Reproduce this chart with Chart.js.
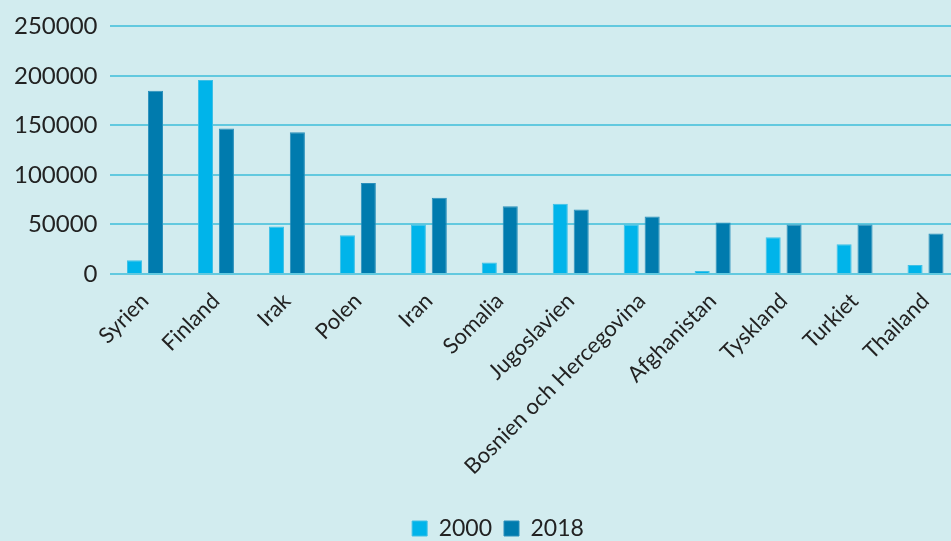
<!DOCTYPE html>
<html>
<head>
<meta charset="utf-8">
<script src="https://cdn.jsdelivr.net/npm/chart.js@4"></script>
<style>
html,body{margin:0;padding:0;background:#d2ecef;overflow:hidden;width:951px;height:541px;}
#wrap{position:absolute;left:0;top:0;width:1003px;height:541px;}
</style>
</head>
<body>
<div id="wrap"><canvas id="c"></canvas></div>
<script>
const categories = ["Syrien","Finland","Irak","Polen","Iran","Somalia","Jugoslavien","Bosnien och Hercegovina","Afghanistan","Tyskland","Turkiet","Thailand"];
const values2000 = [14000,196000,48000,39000,50000,11500,71000,50000,3000,37000,30000,9000];
const values2018 = [185000,147000,143000,92000,77000,68500,65000,58000,52000,50000,50000,41000];
const seriesLabels = ["2000","2018"];
const yTicks = [0,50000,100000,150000,200000,250000];

new Chart(document.getElementById('c'), {
  type: 'bar',
  data: {
    labels: categories,
    datasets: [
      {label: seriesLabels[0], data: values2000, backgroundColor: '#00b4ea', borderColor: '#3ec0e6', borderWidth: 1, barPercentage: 0.72, categoryPercentage: 0.59},
      {label: seriesLabels[1], data: values2018, backgroundColor: '#007bae', borderColor: '#2a8fbb', borderWidth: 1, barPercentage: 0.72, categoryPercentage: 0.59}
    ]
  },
  options: {
    responsive: true,
    maintainAspectRatio: false,
    animation: false,
    layout: {padding: {left: 2, right: 9, top: 6, bottom: -9}},
    plugins: {
      tooltip: {enabled: false},
      legend: {
        position: 'bottom',
        labels: {
          boxWidth: 15, boxHeight: 15, padding: 12,
          color: '#222',
          font: {family: 'Lato', size: 23}
        }
      }
    },
    scales: {
      x: {
        grid: {display: false},
        border: {display: false},
        afterFit: (axis) => { axis.height = 231; },
        ticks: {
          color: '#222',
          font: {family: 'Lato', size: 22},
          minRotation: 45, maxRotation: 45,
          padding: 6
        }
      },
      y: {
        min: 0, max: 250000,
        afterBuildTicks: (axis) => { axis.ticks = yTicks.map(v => ({value: v})); },
        grid: {color: '#62c9df', lineWidth: 2, drawTicks: false},
        border: {display: false},
        ticks: {
          color: '#222',
          font: {family: 'Lato', size: 24},
          padding: 12,
          callback: (v) => String(v)
        }
      },
      yR: {
        position: 'right',
        display: true,
        grid: {display: false, drawTicks: false},
        border: {display: false},
        ticks: {display: false},
        afterFit: (axis) => { axis.width = 33; }
      }
    }
  }
});
</script>
</body>
</html>
